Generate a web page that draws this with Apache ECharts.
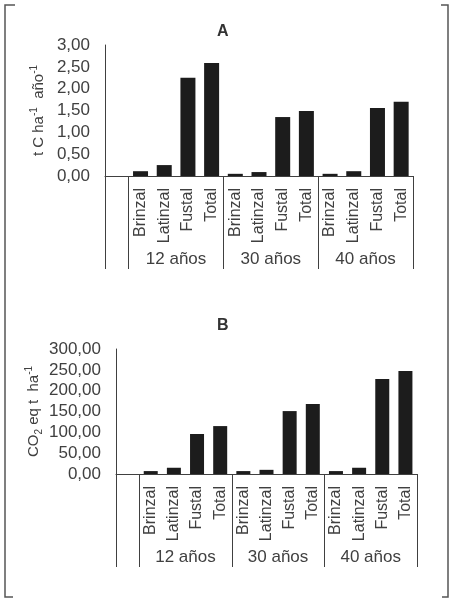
<!DOCTYPE html>
<html>
<head>
<meta charset="utf-8">
<script src="https://cdn.jsdelivr.net/npm/echarts@6/dist/echarts.min.js"></script>
<style>
  html, body { margin: 0; padding: 0; background: #fff; }
  #chart { width: 455px; height: 600px; }
</style>
</head>
<body>
<div id="chart"></div>
<script>
// ---- data ----
const stages = ['Brinzal', 'Latinzal', 'Fustal', 'Total'];
const ages = ['12 años', '30 años', '40 años'];
// Panel A: t C ha-1 año-1
const carbon12 = [0.11, 0.25, 2.25, 2.59];
const carbon30 = [0.05, 0.09, 1.35, 1.49];
const carbon40 = [0.05, 0.11, 1.56, 1.70];
// Panel B: CO2 eq t ha-1
const co2_12 = [7, 15, 96, 115];
const co2_30 = [7, 10, 151, 168];
const co2_40 = [7, 15, 228, 247];
const yTicksA = { min: 0, max: 3, interval: 0.5 };
const yTicksB = { min: 0, max: 300, interval: 50 };

// ---- build category list (leading blank slot, as in the original) ----
const categories = [''].concat(stages, stages, stages);
const valuesA = [null].concat(carbon12, carbon30, carbon40);
const valuesB = [null].concat(co2_12, co2_30, co2_40);
const groupCenters = {};
ages.forEach((a, i) => { groupCenters[1 + i * stages.length + stages.length / 2] = a; });
const groupBoundaryIdx = [0, 1, 5, 9];

const TXT = '#404040';
const LINE = '#404040';
const BAR = '#1c1c1c';
const FONT = 'Liberation Sans, Arial, sans-serif';

function catAxis(gridIndex) {
  return {
    type: 'category', gridIndex, position: 'bottom', data: categories,
    axisLine: { show: true, lineStyle: { color: LINE, width: 1 } },
    axisTick: { show: true, length: 93, lineStyle: { color: LINE, width: 1 },
      interval: (i) => groupBoundaryIdx.indexOf(i) >= 0 },
    axisLabel: { interval: 0, rotate: 90, margin: 12, color: TXT, fontSize: 16, fontFamily: FONT },
    splitLine: { show: false }
  };
}
function groupAxis(gridIndex) {
  return {
    type: 'value', gridIndex, position: 'bottom', min: 0, max: categories.length, interval: 1,
    axisLine: { show: false }, axisTick: { show: false }, splitLine: { show: false },
    axisLabel: { margin: 75, color: TXT, fontSize: 17, fontFamily: FONT,
      showMinLabel: true, showMaxLabel: true,
      formatter: (v) => groupCenters[v] || '' }
  };
}
function valAxis(gridIndex, t, name, nameGap) {
  return {
    type: 'value', gridIndex, min: t.min, max: t.max, interval: t.interval,
    axisLine: { show: true, lineStyle: { color: LINE, width: 1 } },
    axisTick: { show: false }, splitLine: { show: false },
    axisLabel: { color: TXT, fontSize: 17, margin: 15, fontFamily: FONT,
      formatter: (v) => v.toFixed(2).replace('.', ',') },
    name: name, nameLocation: 'middle', nameGap: nameGap, nameMoveOverlap: false,
    nameTextStyle: { color: TXT, fontSize: 15, lineHeight: 20, fontFamily: FONT,
      rich: {
        sup: { fontSize: 10, lineHeight: 10, verticalAlign: 'top', color: TXT, fontFamily: FONT },
        sub: { fontSize: 10, lineHeight: 12, verticalAlign: 'bottom', color: TXT, fontFamily: FONT },
        n: { fontSize: 15, lineHeight: 20, color: TXT, fontFamily: FONT }
      } }
  };
}

const chart = echarts.init(document.getElementById('chart'), null, { renderer: 'canvas' });
chart.setOption({
  animation: false,
  backgroundColor: '#fff',
  title: [
    { text: 'A', left: 212, top: 19, textStyle: { fontSize: 16, fontWeight: 'bold', color: '#333', fontFamily: FONT } },
    { text: 'B', left: 212, top: 313, textStyle: { fontSize: 16, fontWeight: 'bold', color: '#333', fontFamily: FONT } }
  ],
  grid: [
    { left: 105, top: 45, width: 308, height: 131, containLabel: false },
    { left: 116, top: 349, width: 301, height: 125, containLabel: false }
  ],
  xAxis: [catAxis(0), groupAxis(0), catAxis(1), groupAxis(1)],
  yAxis: [
    valAxis(0, yTicksA, '{n|t C ha}{sup|-1}{n|  año}{sup|-1}', 56),
    valAxis(1, yTicksB, '{n|CO}{sub|2}{n| eq t  ha}{sup|-1}', 72)
  ],
  series: [
    { type: 'bar', xAxisIndex: 0, yAxisIndex: 0, data: valuesA, barWidth: 15, itemStyle: { color: BAR } },
    { type: 'bar', xAxisIndex: 2, yAxisIndex: 1, data: valuesB, barWidth: 14, itemStyle: { color: BAR } }
  ],
  graphic: [
    { type: 'polyline', shape: { points: [[15, 5], [5, 5], [5, 597], [13, 597]] }, style: { stroke: '#555', lineWidth: 1.5, fill: null } },
    { type: 'polyline', shape: { points: [[441, 5], [448, 5], [448, 597], [442, 597]] }, style: { stroke: '#555', lineWidth: 1.5, fill: null } }
  ]
});
</script>
</body>
</html>
